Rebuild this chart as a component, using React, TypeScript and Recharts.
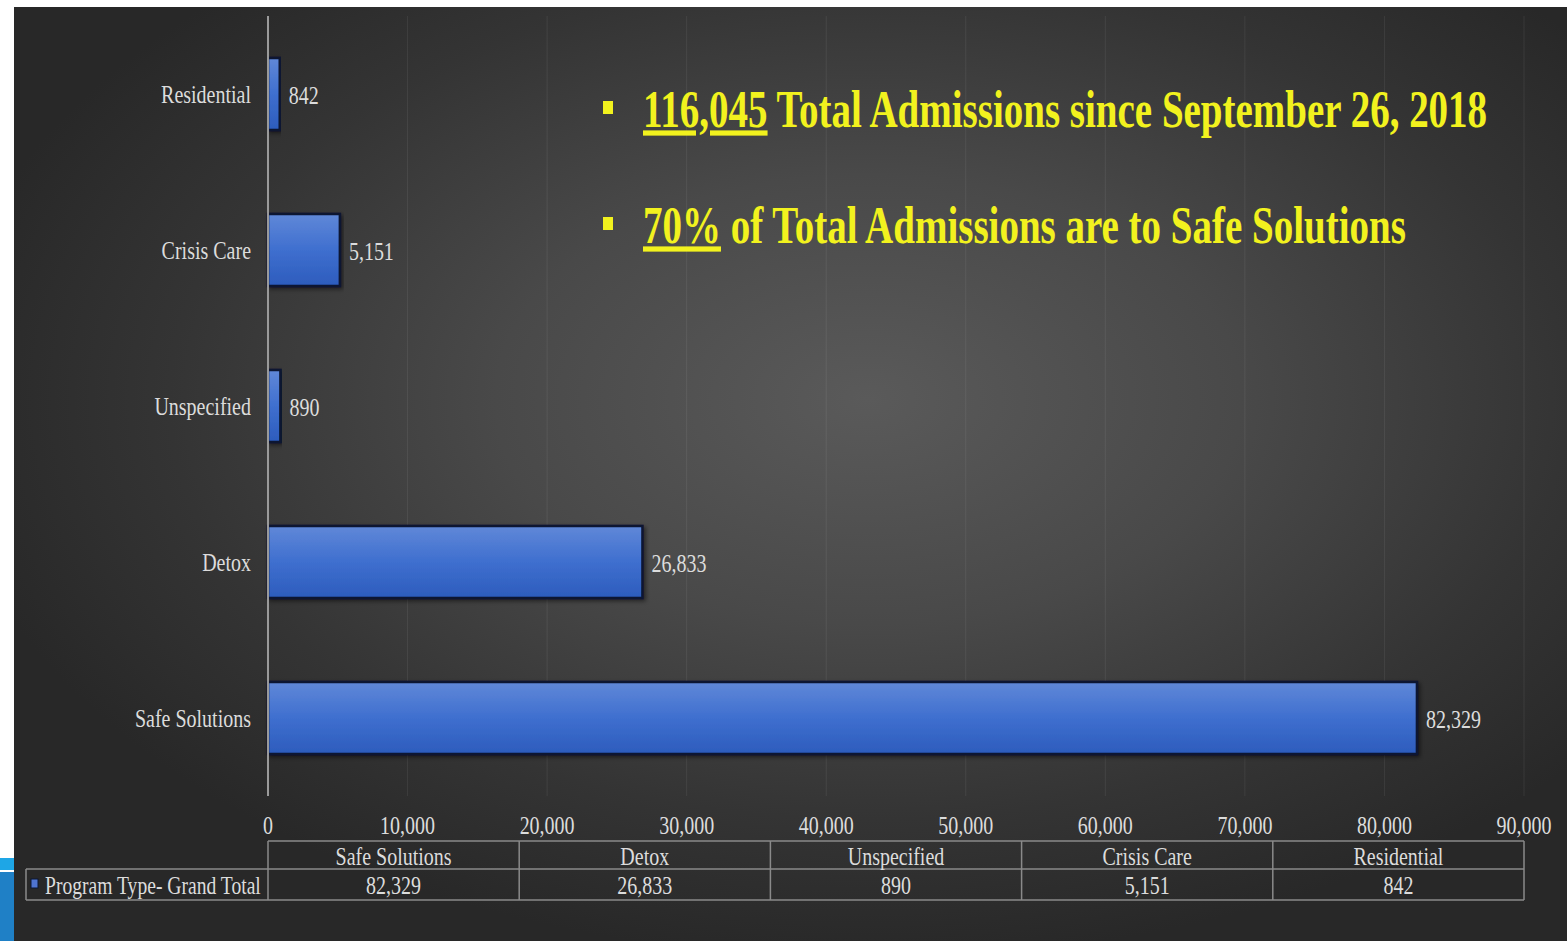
import React from "react";
import { BarChart, Bar, XAxis, YAxis, CartesianGrid, LabelList } from "recharts";

// ---- data (Excel order: first category plotted at the bottom) ----
const categories = ["Safe Solutions", "Detox", "Unspecified", "Crisis Care", "Residential"];
const admissions = [82329, 26833, 890, 5151, 842];
const xTicks = [0, 10000, 20000, 30000, 40000, 50000, 60000, 70000, 80000, 90000];
const seriesName = "Program Type- Grand Total";
const highlightValues = ["116,045", "70%"];
const highlightRest = [" Total Admissions since September 26, 2018", " of Total Admissions are to Safe Solutions"];

const data = categories.map((c, i) => ({ name: c, value: admissions[i] }));

// ---- layout ----
const W = 1567;
const H = 941;
const PLOT_LEFT = 268;
const PLOT_RIGHT = 1524;
const PLOT_BOTTOM = 796;
const FONT = "'Liberation Serif', 'Times New Roman', serif";
const TXT = "#dcdcdc";
const SY = 1.3;

const fmt = (v: number) => v.toLocaleString("en-US");

const YTick = (props: any) => {
  const { x, y, payload } = props;
  return (
    <g transform={`translate(${x - 17},${y})`}>
      <text x={0} y={0} textAnchor="end" dominantBaseline="central" fill={TXT} fontSize={20} fontFamily={FONT} transform={`scale(1,${SY})`}>
        {payload.value}
      </text>
    </g>
  );
};

const XTick = (props: any) => {
  const { x, y, payload } = props;
  return (
    <g transform={`translate(${x},${y + 29})`}>
      <text x={0} y={0} textAnchor="middle" dominantBaseline="central" fill={TXT} fontSize={20} fontFamily={FONT} transform={`scale(1,${SY})`}>
        {fmt(payload.value)}
      </text>
    </g>
  );
};

const ValueLabel = (props: any) => {
  const { x, y, width, height, value } = props;
  return (
    <g transform={`translate(${x + width + 9},${y + height / 2 + 1})`}>
      <text x={0} y={0} textAnchor="start" dominantBaseline="central" fill={TXT} fontSize={20} fontFamily={FONT} transform={`scale(1,${SY})`}>
        {fmt(value)}
      </text>
    </g>
  );
};

const Overlay = () => {
  const colW = (PLOT_RIGHT - PLOT_LEFT) / categories.length;
  const headTop = 841;
  const rowTop = 869;
  const rowBot = 900;
  const legendLeft = 26;
  const stroke = "#8a8a8a";
  return (
    <svg width={W} height={H} style={{ position: "absolute", left: 0, top: 0, pointerEvents: "none" }}>
      {/* annotation text */}
      {highlightValues.map((hv, i) => {
        const baseY = i === 0 ? 127 : 243;
        return (
          <g key={hv}>
            <rect x={603} y={baseY - 26} width={10} height={13} fill="#f2f21e" />
            <g transform={`translate(643,${baseY})`}>
              <text x={0} y={0} fill="#f2f21e" fontSize={39} fontWeight="bold" fontFamily={FONT} transform={`scale(1,1.34)`}>
                <tspan textDecoration="underline">{hv}</tspan>
                <tspan>{highlightRest[i]}</tspan>
              </text>
            </g>
          </g>
        );
      })}
      {/* data table */}
      <g stroke={stroke} strokeWidth={1.5} fill="none">
        <line x1={PLOT_LEFT} y1={headTop} x2={PLOT_RIGHT} y2={headTop} />
        <line x1={legendLeft} y1={rowTop} x2={PLOT_RIGHT} y2={rowTop} />
        <line x1={legendLeft} y1={rowBot} x2={PLOT_RIGHT} y2={rowBot} />
        <line x1={legendLeft} y1={rowTop} x2={legendLeft} y2={rowBot} />
        {categories.map((_, i) => (
          <line key={i} x1={PLOT_LEFT + i * colW} y1={headTop} x2={PLOT_LEFT + i * colW} y2={rowBot} />
        ))}
        <line x1={PLOT_RIGHT} y1={headTop} x2={PLOT_RIGHT} y2={rowBot} />
      </g>
      {categories.map((c, i) => (
        <g key={c}>
          <g transform={`translate(${PLOT_LEFT + (i + 0.5) * colW},${(headTop + rowTop) / 2 + 1})`}>
            <text x={0} y={0} textAnchor="middle" dominantBaseline="central" fill={TXT} fontSize={20} fontFamily={FONT} transform={`scale(1,${SY})`}>
              {c}
            </text>
          </g>
          <g transform={`translate(${PLOT_LEFT + (i + 0.5) * colW},${(rowTop + rowBot) / 2 + 1})`}>
            <text x={0} y={0} textAnchor="middle" dominantBaseline="central" fill={TXT} fontSize={20} fontFamily={FONT} transform={`scale(1,${SY})`}>
              {fmt(admissions[i])}
            </text>
          </g>
        </g>
      ))}
      <rect x={31} y={879} width={7} height={9} fill="#4f74d0" stroke="#0b1633" strokeWidth={1} />
      <g transform={`translate(45,${(rowTop + rowBot) / 2 + 1})`}>
        <text x={0} y={0} textAnchor="start" dominantBaseline="central" fill={TXT} fontSize={19.6} fontFamily={FONT} transform={`scale(1,${SY})`}>
          {seriesName}
        </text>
      </g>
    </svg>
  );
};

export default function App() {
  return (
    <div style={{ position: "absolute", left: 0, top: 0, width: W, height: H, background: "#ffffff", overflow: "hidden" }}>
      {/* left strip */}
      <div style={{ position: "absolute", left: 0, top: 858, width: 14, height: 12, background: "#1ea6e6" }} />
      <div style={{ position: "absolute", left: 0, top: 872, width: 14, height: 69, background: "#1f80c6" }} />
      {/* dark panel */}
      <div
        style={{
          position: "absolute",
          left: 14,
          top: 7,
          width: W - 14,
          height: H - 7,
          background: "radial-gradient(ellipse 60% 60% at 55% 42%, #5a5a5a 0%, #494949 40%, #343434 75%, #282828 100%)",
        }}
      />
      <div style={{ position: "absolute", left: 0, top: 0 }}>
        <BarChart
          width={W}
          height={H}
          data={data}
          layout="vertical"
          margin={{ top: 16, right: W - PLOT_RIGHT, bottom: H - PLOT_BOTTOM - 40, left: 0 }}
          barCategoryGap={0}
        >
          <defs>
            <linearGradient id="barGrad" x1="0" y1="0" x2="0" y2="1">
              <stop offset="0%" stopColor="#6088d8" />
              <stop offset="50%" stopColor="#3f6fcf" />
              <stop offset="100%" stopColor="#2d5cbd" />
            </linearGradient>
            <filter id="barShadow" x="-5%" y="-20%" width="110%" height="150%">
              <feDropShadow dx="2" dy="2" stdDeviation="2" floodColor="#000" floodOpacity="0.5" />
            </filter>
          </defs>
          <CartesianGrid horizontal={false} stroke="rgba(255,255,255,0.07)" strokeWidth={1} />
          <XAxis
            type="number"
            domain={[0, 90000]}
            ticks={xTicks}
            axisLine={false}
            tickLine={false}
            tickSize={0}
            tickMargin={0}
            height={40}
            tick={<XTick />}
            interval={0}
          />
          <YAxis
            type="category"
            dataKey="name"
            reversed
            width={PLOT_LEFT}
            axisLine={{ stroke: "#9a9a9a", strokeWidth: 2 }}
            tickLine={false}
            tickSize={0}
            tickMargin={0}
            tick={<YTick />}
            interval={0}
          />
          <Bar
            dataKey="value"
            barSize={72}
            fill="url(#barGrad)"
            stroke="#0a1530"
            strokeWidth={2.5}
            filter="url(#barShadow)"
            isAnimationActive={false}
          >
            <LabelList dataKey="value" content={<ValueLabel />} />
          </Bar>
        </BarChart>
      </div>
      <Overlay />
    </div>
  );
}
